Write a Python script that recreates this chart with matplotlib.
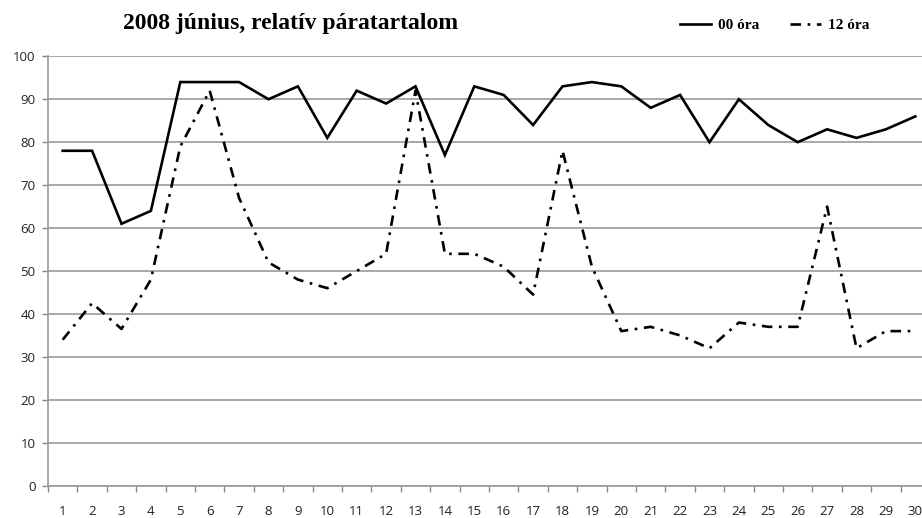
import matplotlib
matplotlib.use("Agg")
import matplotlib.pyplot as plt
import numpy as np

days = list(range(1, 31))
ora00 = [78, 78, 61, 64, 94, 94, 94, 90, 93, 81, 92, 89, 93, 77, 93,
         91, 84, 93, 94, 93, 88, 91, 80, 90, 84, 80, 83, 81, 83, 86]
ora12 = [34, 42.5, 36.5, 48, 79, 92, 67, 52, 48, 46, 50, 54, 92, 54, 54,
         51, 44.5, 78, 51, 36, 37, 35, 32, 38, 37, 37, 65, 32, 36, 36]
yticks = list(range(0, 101, 10))
title = "2008 június, relatív páratartalom"
labels = ["00 óra", "12 óra"]

fig = plt.figure(figsize=(9.22, 5.18), dpi=100)
ax = fig.add_axes([48/922, 1-485.7/518, 882/922, (485.7-56.3)/518])

ax.plot(days, ora00, color="black", lw=1.9, solid_joinstyle="miter", label=labels[0])
ax.plot(days, ora12, color="black", lw=1.9, linestyle=(0, (4, 2.5, 1, 2.5)), label=labels[1])

ax.set_xlim(0.5, 30.5)
ax.set_ylim(0, 100)
ax.set_yticks(yticks)
ax.set_xticks(days)
ax.set_xticks(np.arange(0.5, 31, 1), minor=True)
ax.tick_params(axis="x", which="major", length=0, pad=14, labelsize=9.5, labelcolor="#222222")
ax.tick_params(axis="x", which="minor", length=4, color="#888888", width=1)
ax.tick_params(axis="y", length=4, color="#888888", width=1, labelsize=9.5, labelcolor="#222222", pad=5)
for lab in ax.get_xticklabels() + ax.get_yticklabels():
    lab.set_fontfamily("Open Sans")

ax.grid(axis="y", color="#999999", lw=1.2)
ax.set_axisbelow(True)
for s in ["top", "right"]:
    ax.spines[s].set_visible(False)
for s in ["left", "bottom"]:
    ax.spines[s].set_color("#999999")
    ax.spines[s].set_linewidth(1.2)

fig.text(291/922, 1-23/518, title, ha="center", va="center",
         fontfamily="Liberation Serif", fontweight="bold", fontsize=17)

leg = fig.legend(loc="center", bbox_to_anchor=(775/922, 1-25/518), ncol=2, frameon=False,
                 prop={"family": "Liberation Serif", "weight": "bold", "size": 11},
                 handlelength=2.0, columnspacing=2.0, handletextpad=0.5)

fig.savefig("out.png", dpi=100)
